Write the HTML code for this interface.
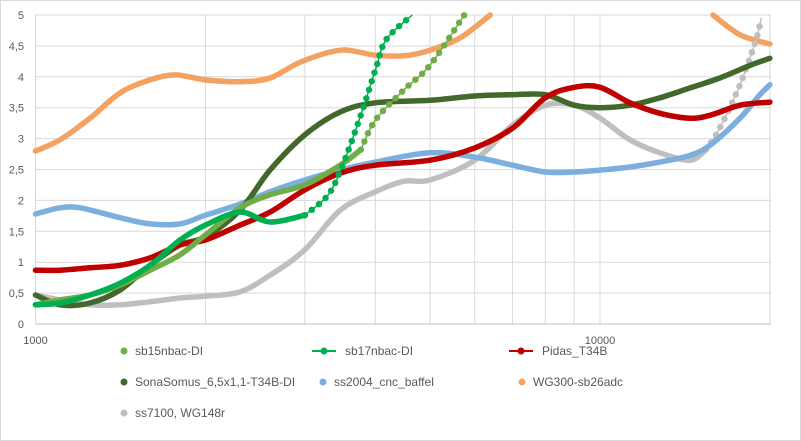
<!DOCTYPE html>
<html><head><meta charset="utf-8"><style>
body{margin:0;background:#fff}
svg{display:block;font-family:"Liberation Sans",sans-serif}
</style></head><body>
<svg id="c" width="801" height="441">
<rect x="0.5" y="0.5" width="800" height="440" fill="#fff" stroke="#d9d9d9"/>
<g id="grid"></g><g id="series"></g><g id="axes"></g><g id="legend"></g>
</svg>
<script>
const yTicks=[0,0.5,1,1.5,2,2.5,3,3.5,4,4.5,5];
const yTickLabels=["0","0,5","1","1,5","2","2,5","3","3,5","4","4,5","5"];
const xGrid=[1000,2000,3000,4000,5000,6000,7000,8000,9000,10000,20000];
const xTickValues=[1000,10000];
const xTickLabels=["1000","10000"];
const seriesNames=["sb15nbac-DI","sb17nbac-DI","Pidas_T34B","SonaSomus_6,5x1,1-T34B-DI","ss2004_cnc_baffel","WG300-sb26adc","ss7100, WG148r"];
const seriesColors=["#70ad47","#00b050","#c00000","#43682b","#7cafdd","#f4a261","#bfbfbf"];
const sb15F=[1000,1105,1249,1412,1596,1803,2000,2303,2603,3000,3465,3770,4000,4496,5000,5750];
const sb15V=[0.31,0.39,0.47,0.63,0.87,1.12,1.44,1.88,2.09,2.25,2.57,2.82,3.3,3.79,4.19,5.0];
const sb17F=[1000,1105,1249,1412,1596,1803,2000,2303,2603,3000,3300,3500,3770,4000,4180,4650];
const sb17V=[0.31,0.34,0.47,0.66,0.95,1.36,1.6,1.81,1.65,1.76,2.09,2.57,3.38,4.11,4.6,5.0];
const pidF=[1000,1105,1249,1412,1596,1803,2000,2303,2603,3000,3465,4000,5000,6000,7000,8000,9000,10000,11300,12770,14440,15700,17700,20000];
const pidV=[0.87,0.87,0.91,0.95,1.07,1.28,1.36,1.6,1.81,2.17,2.44,2.57,2.65,2.85,3.17,3.66,3.83,3.83,3.58,3.41,3.33,3.38,3.54,3.59];
const sonaF=[1000,1105,1249,1412,1596,1803,2000,2303,2603,3000,3465,4000,5000,6000,7000,8000,9000,10000,11300,12770,14440,16300,18500,20000];
const sonaV=[0.47,0.31,0.34,0.55,0.95,1.28,1.41,1.84,2.49,3.06,3.43,3.58,3.62,3.69,3.71,3.71,3.54,3.5,3.54,3.66,3.82,3.98,4.19,4.3];
const ssF=[1000,1105,1200,1412,1596,1803,2000,2303,2603,3000,3465,4000,5000,6000,7000,8000,9000,10000,11300,12770,14440,15700,17700,19200,20000];
const ssV=[1.78,1.88,1.88,1.72,1.62,1.62,1.76,1.94,2.14,2.33,2.49,2.62,2.77,2.7,2.57,2.46,2.46,2.49,2.54,2.62,2.73,2.9,3.33,3.71,3.87];
const wgF=[1000,1105,1249,1412,1596,1767,2000,2303,2603,2950,3465,4000,4496,5000,5650,6390];
const wgV=[2.8,2.98,3.33,3.74,3.95,4.03,3.95,3.92,3.98,4.24,4.43,4.35,4.34,4.43,4.63,5.0];
const wg2F=[15850,17700,20000];
const wg2V=[5.0,4.68,4.53];
const grF=[1000,1105,1249,1412,1596,1803,2000,2303,2603,3000,3465,4000,4496,5000,6000,7000,8000,9000,10000,11300,12770,14440,15400,16300,17700,18900,19300];
const grV=[0.47,0.39,0.31,0.31,0.36,0.42,0.45,0.52,0.79,1.2,1.84,2.14,2.31,2.33,2.65,3.22,3.54,3.54,3.33,2.98,2.77,2.65,2.82,3.17,3.87,4.6,4.95];

const L=35.5,R=771,T=15,B=324,NS="http://www.w3.org/2000/svg";
function X(f){return L+(Math.log10(f)-3)*564.5;}
function Y(v){return B-(v/5)*(B-T);}
function mk(tag,attrs,parent){const e=document.createElementNS(NS,tag);for(const k in attrs)e.setAttribute(k,attrs[k]);parent.appendChild(e);return e;}
const grid=document.getElementById('grid'),axes=document.getElementById('axes'),sg=document.getElementById('series'),lg=document.getElementById('legend');
yTicks.forEach((v,i)=>{
 const l=mk('line',{x1:L,x2:R,y1:Y(v),y2:Y(v),stroke:'#d9d9d9','stroke-width':1},grid);
 
 
 const t=mk('text',{x:24,y:Y(v)+4,'text-anchor':'end','font-size':11,fill:'#595959'},axes);
 t.textContent=yTickLabels[i];
 
 
});
xGrid.forEach(f=>{
 const l=mk('line',{x1:X(f),x2:X(f),y1:T,y2:B,stroke:'#d9d9d9','stroke-width':1},grid);
 
 
});
xTickValues.forEach((f,i)=>{
 const t=mk('text',{x:X(f),y:344,'text-anchor':'middle','font-size':11,fill:'#595959'},axes);
 t.textContent=xTickLabels[i];
 
 
});
const ax=mk('line',{x1:L,x2:R,y1:B,y2:B,stroke:'#bfbfbf'},axes);


function smooth(P){
 if(P.length<2)return '';
 let d='M'+P[0][0].toFixed(1)+','+P[0][1].toFixed(1);
 for(let i=0;i<P.length-1;i++){
  const p0=P[i-1]||P[i],p1=P[i],p2=P[i+1],p3=P[i+2]||p2;
  const c1=[p1[0]+(p2[0]-p0[0])/6,p1[1]+(p2[1]-p0[1])/6];
  const c2=[p2[0]-(p3[0]-p1[0])/6,p2[1]-(p3[1]-p1[1])/6];
  d+=' C'+c1.map(n=>n.toFixed(1)).join(',')+' '+c2.map(n=>n.toFixed(1)).join(',')+' '+p2[0].toFixed(1)+','+p2[1].toFixed(1);
 }
 return d;
}
function draw(F,V,color,name,dotFrom){
 const g=mk('g',{},sg);
 
 
 const P=F.map((f,i)=>[X(f),Y(V[i])]);
 const cut=dotFrom==null?P.length:dotFrom;
 const solid=P.slice(0,cut);
 if(solid.length>1)mk('path',{d:smooth(solid),fill:'none',stroke:color,'stroke-width':5.5,'stroke-linejoin':'round','stroke-linecap':'round'},g);
 if(dotFrom!=null){
  const dp=P.slice(cut-1);
  const d=smooth(dp);
  mk('path',{d:d,fill:'none',stroke:color,'stroke-width':1.5},g);
  mk('path',{d:d,fill:'none',stroke:color,'stroke-width':6.5,'stroke-linecap':'round','stroke-dasharray':'0 9'},g);
 }
}
draw(wgF,wgV,seriesColors[5],'series-wg300');
draw(wg2F,wg2V,seriesColors[5],'series-wg300-high');
draw(grF,grV,seriesColors[6],'series-ss7100',23);
draw(ssF,ssV,seriesColors[4],'series-ss2004');
draw(sonaF,sonaV,seriesColors[3],'series-sonasomus');
draw(pidF,pidV,seriesColors[2],'series-pidas');
draw(sb15F,sb15V,seriesColors[0],'series-sb15nbac',12);
draw(sb17F,sb17V,seriesColors[1],'series-sb17nbac',10);
const legPos=[[124,351,false],[324,351,true],[521,351,true],[124,382,false],[323,382,false],[522,382,false],[124,413,false]];
seriesNames.forEach((n,i)=>{
 const [x,y,line]=legPos[i];
 const g=mk('g',{},lg);
 
 
 if(line)mk('line',{x1:x-12,x2:x+12,y1:y,y2:y,stroke:seriesColors[i],'stroke-width':2},g);
 mk('circle',{cx:x,cy:y,r:3.5,fill:seriesColors[i]},g);
 const t=mk('text',{x:x+(line?21:11),y:y+4,'font-size':12,fill:'#595959'},g);
 t.textContent=n;
});
</script>
</body></html>
